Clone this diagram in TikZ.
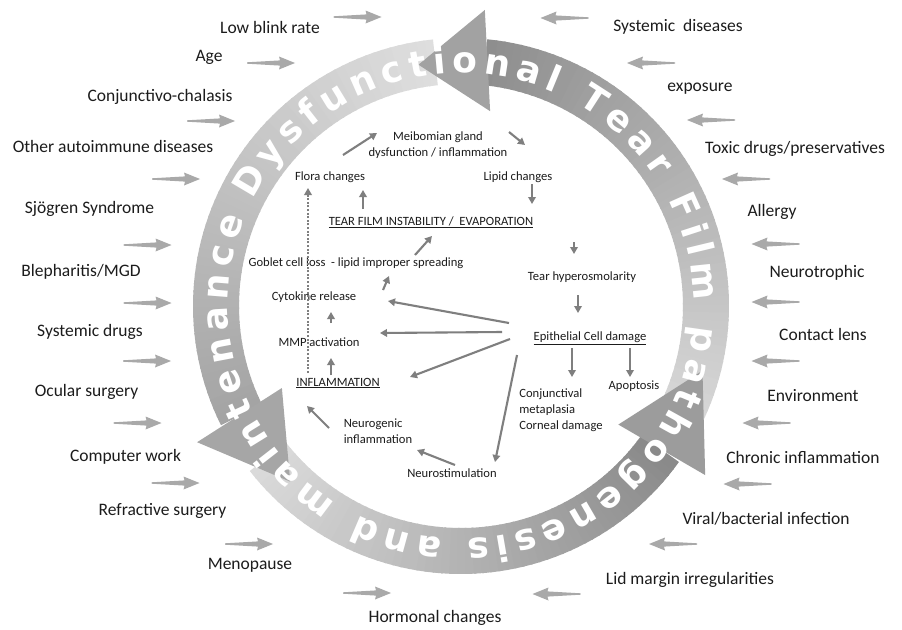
\documentclass[tikz,border=0pt]{standalone}
\usepackage{fontspec}
\setmainfont{Carlito}
\newfontfamily\ringfont{DejaVu Sans}
\usetikzlibrary{arrows.meta,calc,decorations.text}
\definecolor{ink}{HTML}{1C1C1C}
\definecolor{feed}{HTML}{A9A9A9}
\definecolor{link}{HTML}{7F7F7F}
\definecolor{headtop}{HTML}{A2A2A2}
\definecolor{headleft}{HTML}{A6A6A6}
\definecolor{headright}{HTML}{9C9C9C}
\tikzset{
  feedarrow/.pic={\fill[feed] (-24,-0.7) -- (9,-2.6) -- (8,-6.5) -- (24,0) -- (8,6.5) -- (9,2.6) -- (-24,0.7) -- cycle;}
}
\begin{document}
\begin{tikzpicture}[x=1pt,y=-1pt,
  cause/.style={font=\fontsize{17.5}{20}\selectfont,text=ink,inner sep=0pt},
  lbl/.style={font=\fontsize{12.6}{16}\selectfont,text=ink,inner sep=1pt,align=center},
  arr/.style={-{Triangle[length=7pt,width=7.5pt]},line width=2.1pt,link}]
\path[use as bounding box,fill=white] (0,0) rectangle (902,629);

% ring of three curved arrows
\begin{scope}[shift={(461,306)},y=1pt]
  \foreach \tailang/\headang/\lite/\dark in {-25/84/D6D6D6/8E8E8E,96/206/DEDEDE/A4A4A4,218/324/DADADA/8A8A8A}{
    \definecolor{lite}{HTML}{\lite}\definecolor{dark}{HTML}{\dark}
    \foreach \i in {0,...,59}{
      \pgfmathsetmacro\angA{\tailang+(\headang-\tailang)*\i/60}
      \pgfmathsetmacro\angB{\tailang+(\headang-\tailang)*(\i+1)/60+0.4}
      \pgfmathtruncatemacro\mix{100*\i/59}
      \fill[dark!\mix!lite] (\angA:222) arc (\angA:\angB:222) -- (\angB:268) arc (\angB:\angA:268) -- cycle;
    }
  }
  \fill[headtop] (81.5:197) -- (100:245) -- (85.4:297) -- cycle;
  \fill[headleft] (204.6:197) -- (225.8:245) -- (207.3:297) -- cycle;
  \fill[headright] (-37:197) -- (-15:250) -- (-34.7:297) -- cycle;
  \path[decorate,decoration={text along path,text align=fit to path,text color=white,
    text={|\ringfont\bfseries\fontsize{36}{36}\selectfont|Dysfunctional Tear Film pathogenesis and maintenance}}]
    (153:233) arc (153:-202:233);
\end{scope}

% causes, left and right
\foreach \x/\y/\txt [count=\n] in {270/27/Low blink rate,209/57/Age,160/97/Conjunctivo-chalasis,
  113/146/Other autoimmune diseases,89.5/209/Sjögren Syndrome,81/272/{Blepharitis/MGD},
  90/332/Systemic drugs,86.5/392/Ocular surgery,125.5/457/Computer work,
  162.5/511/Refractive surgery,250/565/Menopause,435/618/Hormonal changes}
  \node[cause] (cl\n) at (\x,\y) {\txt};
\foreach \x/\y/\txt [count=\n] in {678/27/Systemic\ \ diseases,700/89/exposure,
  795/149/{Toxic drugs/preservatives},772/212/Allergy,817/273/Neurotrophic,823/334/Contact lens,
  813/396/Environment,803/457/Chronic inflammation,766/519/{Viral/bacterial infection},
  690/580/Lid margin irregularities}
  \node[cause] (cr\n) at (\x,\y) {\txt};
\foreach \x/\y in {357.5/17,271/63,211/121,176/179,147.5/245,147.5/303,147/361,137.5/423,175.5/483,249/544,367/593}
  \pic at (\x,\y) {feedarrow};
\foreach \x/\y in {564.5/18,651/63,711/120,746/179,775.5/244,775.5/302,775.5/361,766.5/423,747.5/484,673/544,556.5/594}
  \pic[rotate=180] at (\x,\y) {feedarrow};

% inner cycle
\node[lbl] (meib) at (438,145) {Meibomian gland\\dysfunction / inflammation};
\node[lbl] (flora) at (330,177) {Flora changes};
\node[lbl] (lipid) at (518,177) {Lipid changes};
\node[lbl] (tfi) at (431,222) {\underline{TEAR FILM INSTABILITY /\ \ EVAPORATION}};
\node[lbl] (goblet) at (356,263) {Goblet cell loss\ \ - lipid improper spreading};
\node[lbl] (hyper) at (582,277) {Tear hyperosmolarity};
\node[lbl] (cyto) at (314,297) {Cytokine release};
\node[lbl] (mmp) at (319,342) {MMP activation};
\node[lbl] (epi) at (590,338) {\underline{Epithelial Cell damage}};
\node[lbl] (infl) at (338,383) {\underline{INFLAMMATION}};
\node[lbl] (apop) at (634,386) {Apoptosis};
\node[lbl,align=left] (conj) at (561,410) {Conjunctival\\metaplasia\\Corneal damage};
\node[lbl,align=left] (neurog) at (378,431) {Neurogenic\\inflammation};
\node[lbl] (neurost) at (452,473) {Neurostimulation};

\draw[arr] ($(flora)+(13,-22)$) -- ($(meib)+(-61,-12)$);
\draw[arr] ($(meib)+(71,-13)$) -- ($(lipid)+(7,-32)$);
\draw[arr] ($(tfi)+(-68,-13)$) -- ($(flora)+(33,13)$);
\draw[arr] ($(lipid)+(14,7)$) -- ($(tfi)+(101,-18)$);
\draw[arr] ($(tfi)+(143,20)$) -- ($(hyper)+(-8,-23)$);
\draw[arr] ($(goblet)+(59,-8)$) -- ($(tfi)+(1,14)$);
\draw[arr] ($(cyto)+(69,-7)$) -- ($(goblet)+(33,13)$);
\draw[arr] ($(mmp)+(12,-19)$) -- ($(cyto)+(17,15)$);
\draw[arr] ($(infl)+(-7,-8)$) -- ($(mmp)+(12,16)$);
\draw[arr] ($(hyper)+(-4,18)$) -- ($(epi)+(-12,-25)$);
\draw[arr] ($(epi)+(-81,-15)$) -- ($(cyto)+(74,4)$);
\draw[arr] ($(epi)+(-88,-6)$) -- ($(mmp)+(61,-9)$);
\draw[arr] ($(epi)+(-80,1)$) -- ($(infl)+(72,-6)$);
\draw[arr] ($(epi)+(-73,17)$) -- ($(neurost)+(43,-11)$);
\draw[arr] ($(epi)+(-18,10)$) -- ($(conj)+(11,-33)$);
\draw[arr] ($(epi)+(40,10)$) -- ($(apop)+(-4,-9)$);
\draw[arr] ($(neurost)+(3,-8)$) -- ($(neurog)+(39,19)$);
\draw[arr] ($(neurog)+(-49,-3)$) -- ($(infl)+(-31,23)$);
\draw[arr,dash pattern=on 2pt off 1.6pt] ($(infl)+(-30,-10)$) -- ($(flora)+(-22,11)$);
\end{tikzpicture}
\end{document}
